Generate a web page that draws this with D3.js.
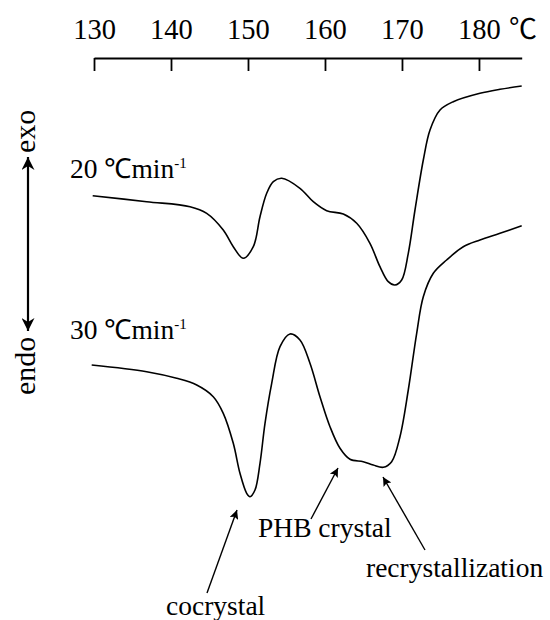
<!DOCTYPE html>
<html>
<head>
<meta charset="utf-8">
<script src="https://cdn.jsdelivr.net/npm/d3@7"></script>
<style>
  html, body { margin: 0; padding: 0; background: #fff; }
  svg text { font-family: "Liberation Serif", "Times New Roman", serif; fill: #000; }
</style>
</head>
<body>
<svg id="chart" width="550" height="620"></svg>
<script>
// Temperature (°C) and heat-flow (arbitrary units)
const temp20 = [129.83,136.84,142.47,144.64,146.79,148.09,149.39,150.69,151.56,152.43,153.29,154.38,156.75,158.48,160.22,162.38,164.12,165.84,167.14,168.22,169.09,169.96,170.82,171.69,172.77,173.64,174.94,176.66,180.13,182.73,185.55];
const flow20 = [36.43,35.83,35.33,34.67,33.0,31.33,30.17,31.33,34.33,36.67,37.83,38.17,37.17,35.83,34.93,34.6,33.67,31.67,29.33,27.83,27.5,28.0,30.67,35.0,40.0,43.0,45.0,45.83,46.67,47.07,47.4];

const temp30 = [129.70,136.84,140.74,143.34,145.49,146.79,148.09,148.96,149.83,150.26,150.91,151.56,152.21,153.08,154.16,155.45,156.75,158.05,159.35,160.65,161.95,163.25,164.97,166.27,167.57,168.66,169.74,170.82,171.91,172.77,174.07,175.80,177.96,180.13,182.73,185.55];
const flow30 = [19.5,18.83,18.17,17.5,16.33,14.67,11.67,8.67,6.67,6.33,7.0,9.67,13.67,17.67,21.33,22.6,22.0,19.67,16.33,13.33,11.17,10.07,9.83,9.5,9.27,9.83,12.33,17.0,22.67,26.33,28.67,30.0,31.33,32.0,32.67,33.43];

const tickValues = [130,140,150,160,170,180];
const unitLabel = "\u2103";
const rateLabels = ["20 \u2103min", "30 \u2103min"];
const annotations = ["cocrystal", "PHB crystal", "recrystallization"];

const svg = d3.select("#chart");
const x = d3.scaleLinear().domain([130, 185.55]).range([94, 521.7]);
const y = d3.scaleLinear().domain([0, 50]).range([560, 60]);

// top axis
const axis = d3.axisTop(x).tickValues(tickValues).tickSizeInner(-13).tickSizeOuter(0).tickPadding(19).tickFormat(d3.format("d"));
const g = svg.append("g").attr("transform", "translate(0,58)").call(axis);
g.select(".domain").attr("stroke", "#000").attr("stroke-width", 2.2);
g.selectAll(".tick line").attr("stroke", "#000").attr("stroke-width", 1.8);
g.selectAll(".tick text").attr("font-size", 28.5).attr("font-family", "Liberation Serif, serif").attr("fill", "#000").attr("dy", "0");
svg.append("text").attr("x", 509).attr("y", 39).attr("font-size", 28)
  .style("font-family", "'Noto Sans CJK SC', 'Liberation Serif', serif").text(unitLabel);

// curves
const line = d3.line().x(d => x(d[0])).y(d => y(d[1])).curve(d3.curveCatmullRom.alpha(0.5));
[[temp20, flow20], [temp30, flow30]].forEach(([t, f]) => {
  svg.append("path").datum(t.map((v, i) => [v, f[i]]))
    .attr("d", line).attr("fill", "none").attr("stroke", "#000").attr("stroke-width", 1.6)
    .attr("stroke-linejoin", "round");
});

// rate labels
[[70, 178], [70, 339]].forEach(([lx, ly], i) => {
  const t = svg.append("text").attr("x", lx).attr("y", ly).attr("font-size", 27.5);
  t.append("tspan").text(rateLabels[i]);
  t.append("tspan").attr("font-size", 15).attr("dy", -10).text("-1");
});

// arrow markers
const defs = svg.append("defs");
defs.append("marker").attr("id", "ah").attr("viewBox", "0 0 10 10").attr("refX", 10).attr("refY", 5)
  .attr("markerWidth", 12).attr("markerHeight", 9).attr("markerUnits", "userSpaceOnUse").attr("orient", "auto-start-reverse")
  .append("path").attr("d", "M0,0 L10,5 L0,10 L2,5 Z").attr("fill", "#000");
defs.append("marker").attr("id", "ah2").attr("viewBox", "0 0 10 10").attr("refX", 10).attr("refY", 5)
  .attr("markerWidth", 18).attr("markerHeight", 13).attr("markerUnits", "userSpaceOnUse").attr("orient", "auto-start-reverse")
  .append("path").attr("d", "M0,0 L10,5 L0,10 L3,5 Z").attr("fill", "#000");

// exo/endo double arrow
svg.append("line").attr("x1", 28).attr("y1", 157).attr("x2", 28).attr("y2", 331)
  .attr("stroke", "#000").attr("stroke-width", 2.2)
  .attr("marker-start", "url(#ah2)").attr("marker-end", "url(#ah2)");
svg.append("text").attr("transform", "translate(35,153) rotate(-90)").attr("font-size", 30).text("exo");
svg.append("text").attr("transform", "translate(35,395) rotate(-90)").attr("font-size", 30).text("endo");

// annotations
const ann = [
  {t: annotations[0], tx: 166, ty: 615, a: [207, 593, 237, 510]},
  {t: annotations[1], tx: 258, ty: 537, a: [311, 519, 338, 468]},
  {t: annotations[2], tx: 366, ty: 577, a: [425, 550, 383, 477]}
];
ann.forEach(d => {
  svg.append("line").attr("x1", d.a[0]).attr("y1", d.a[1]).attr("x2", d.a[2]).attr("y2", d.a[3])
    .attr("stroke", "#000").attr("stroke-width", 1.4).attr("marker-end", "url(#ah)");
  svg.append("text").attr("x", d.tx).attr("y", d.ty).attr("font-size", 27.5).text(d.t);
});
</script>
</body>
</html>
